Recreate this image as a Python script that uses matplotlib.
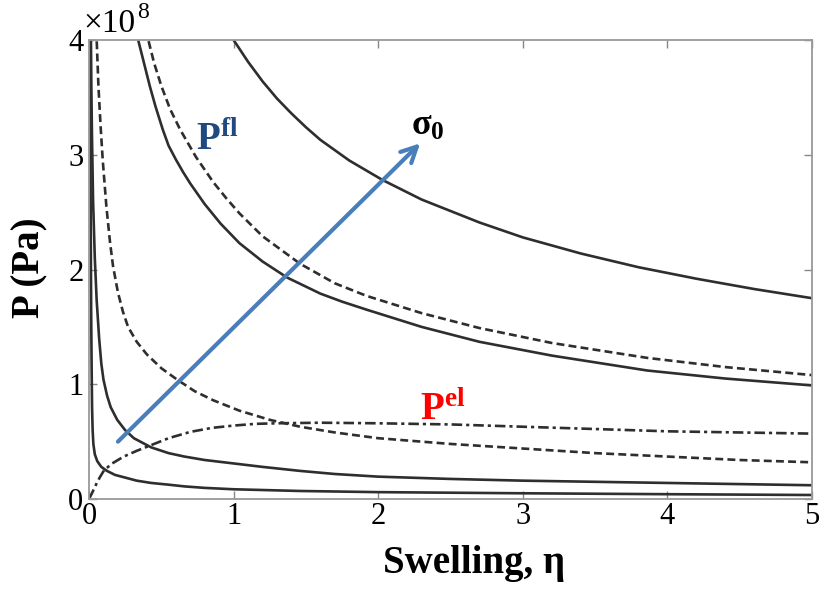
import matplotlib
matplotlib.use("Agg")
import matplotlib.pyplot as plt

plt.rcParams["font.family"] = ["Liberation Serif", "DejaVu Serif"]
plt.rcParams["mathtext.fontset"] = "custom"
plt.rcParams["mathtext.rm"] = "Liberation Serif"
plt.rcParams["mathtext.it"] = "Liberation Serif:italic"
plt.rcParams["mathtext.bf"] = "Liberation Serif:bold"

# pressures in units of 1e8 Pa
x_solid_low = [0.008, 0.01, 0.012, 0.015, 0.018, 0.021, 0.025, 0.03, 0.04, 0.057,
               0.085, 0.124, 0.18, 0.24, 0.33, 0.43, 0.55, 0.66, 0.8, 1.0,
               1.46, 2.0, 3.0, 4.0, 5.0]
p_solid_low = [4.2, 3.0, 2.3, 1.6, 1.15, 0.8, 0.6, 0.48, 0.39, 0.33,
               0.28, 0.245, 0.21, 0.19, 0.16, 0.14, 0.125, 0.11, 0.097, 0.085,
               0.07, 0.06, 0.05, 0.042, 0.035]

x_solid_2 = [0.012, 0.016, 0.02, 0.028, 0.04, 0.053, 0.07, 0.085, 0.1, 0.125, 0.15,
             0.195, 0.25, 0.31, 0.43, 0.55, 0.66, 0.8, 1.0, 1.2, 1.46, 1.7, 2.0,
             2.5, 3.0, 4.0, 5.0]
p_solid_2 = [4.2, 3.6, 3.2, 2.6, 2.1, 1.73, 1.4, 1.18, 1.04, 0.9, 0.8,
             0.69, 0.6, 0.53, 0.45, 0.4, 0.37, 0.34, 0.31, 0.28, 0.245, 0.218, 0.195,
             0.175, 0.16, 0.14, 0.12]

x_dash_1 = [0.05, 0.053, 0.065, 0.08, 0.095, 0.12, 0.145, 0.166, 0.2, 0.235, 0.27,
            0.33, 0.4, 0.5, 0.61, 0.73, 0.86, 1.04, 1.25, 1.46, 1.7, 2.0, 2.5,
            3.0, 3.5, 4.0, 4.5, 5.0]
p_dash_1 = [4.2, 4.0, 3.6, 3.25, 2.95, 2.55, 2.24, 2.03, 1.8, 1.63, 1.5,
            1.37, 1.26, 1.14, 1.04, 0.94, 0.86, 0.77, 0.69, 0.63, 0.58, 0.53, 0.48,
            0.44, 0.40, 0.37, 0.34, 0.32]

x_solid_3 = [0.32, 0.34, 0.38, 0.42, 0.46, 0.51, 0.55, 0.6, 0.65, 0.70, 0.8, 0.91,
             1.04, 1.2, 1.37, 1.6, 1.75, 1.92, 2.3, 2.7, 3.2, 3.86, 4.4, 5.0]
p_solid_3 = [4.2, 4.0, 3.8, 3.6, 3.42, 3.22, 3.08, 2.96, 2.85, 2.75, 2.57, 2.40,
             2.23, 2.07, 1.93, 1.79, 1.72, 1.65, 1.50, 1.37, 1.25, 1.12, 1.05, 0.99]

x_dash_2 = [0.39, 0.41, 0.45, 0.5, 0.56, 0.63, 0.74, 0.86, 0.95, 1.04, 1.2, 1.46,
            1.7, 1.92, 2.3, 2.7, 3.2, 3.86, 4.4, 5.0]
p_dash_2 = [4.2, 4.0, 3.8, 3.6, 3.4, 3.22, 2.98, 2.76, 2.62, 2.49, 2.29, 2.05,
            1.88, 1.77, 1.62, 1.49, 1.36, 1.23, 1.15, 1.08]

x_solid_top = [0.95, 1.0, 1.1, 1.2, 1.3, 1.4, 1.5, 1.6, 1.8, 2.03, 2.3, 2.7, 3.0,
               3.4, 3.8, 4.2, 4.6, 5.0]
p_solid_top = [4.1, 4.0, 3.81, 3.64, 3.49, 3.36, 3.24, 3.13, 2.95, 2.78, 2.61, 2.41,
               2.28, 2.14, 2.02, 1.92, 1.83, 1.75]

x_el = [0.0, 0.02, 0.05, 0.075, 0.104, 0.16, 0.24, 0.33, 0.43, 0.55, 0.7, 0.85,
        1.0, 1.15, 1.3, 1.6, 2.0, 2.5, 3.0, 3.5, 4.0, 4.5, 5.0]
p_el = [0.0, 0.05, 0.13, 0.19, 0.25, 0.31, 0.37, 0.42, 0.47, 0.53, 0.585, 0.62,
        0.64, 0.655, 0.66, 0.665, 0.66, 0.65, 0.63, 0.61, 0.59, 0.58, 0.57]

arrow_start = (0.20, 0.50)
arrow_end = (2.29, 3.10)

line_col = "#2e2e2e"

fig = plt.figure(figsize=(8.22, 5.94), dpi=100)
ax = fig.add_axes([0.1083, 0.1599, 0.8796, 0.7727])

for xs, ps in [(x_solid_low, p_solid_low), (x_solid_2, p_solid_2),
               (x_solid_3, p_solid_3), (x_solid_top, p_solid_top)]:
    ax.plot(xs, ps, color=line_col, lw=1.9, solid_joinstyle="round")
for xs, ps in [(x_dash_1, p_dash_1), (x_dash_2, p_dash_2)]:
    ax.plot(xs, ps, color=line_col, lw=1.9, dashes=(3, 1.6))
ax.plot(x_el, p_el, color=line_col, lw=1.9, dashes=(4, 1.5, 1.2, 1.5))

ax.annotate("", xy=arrow_end, xytext=arrow_start,
            arrowprops=dict(arrowstyle="->", color="#4a7ebb", lw=3,
                            mutation_scale=28, shrinkA=0, shrinkB=0))

ax.text(0.74, 3.04, r"$\mathbf{P}^{\mathbf{fl}}$", color="#1f4a7f", fontsize=28)
ax.text(2.29, 0.69, r"$\mathbf{P}^{\mathbf{el}}$", color="#ff0000", fontsize=28)
ax.text(2.23, 3.17, r"$\mathbf{\sigma}_{\mathbf{0}}$", color="black", fontsize=26)

ax.set_xlim(0, 5)
ax.set_ylim(0, 4)
ax.set_xticks(range(6))
ax.set_yticks(range(5))
ax.tick_params(direction="in", length=6, width=1, color="#888888",
               labelsize=22, top=True, right=True)
ax.tick_params(axis="x", pad=2)
ax.tick_params(axis="y", pad=4)
for s in ax.spines.values():
    s.set_color("#999999")
    s.set_linewidth(1.3)

ax.text(-0.008, 1.017, "×10", transform=ax.transAxes,
        fontsize=24, ha="left", va="baseline")
ax.text(0.066, 1.047, "8", transform=ax.transAxes,
        fontsize=17, ha="left", va="baseline")

ax.set_xlabel("Swelling, η", fontsize=28, fontweight="bold")
ax.xaxis.set_label_coords(0.532, -0.100)
ax.set_ylabel("P (Pa)", fontsize=28, fontweight="bold")
ax.yaxis.set_label_coords(-0.056, 0.505)

fig.savefig("out.png", dpi=100, facecolor="white")
